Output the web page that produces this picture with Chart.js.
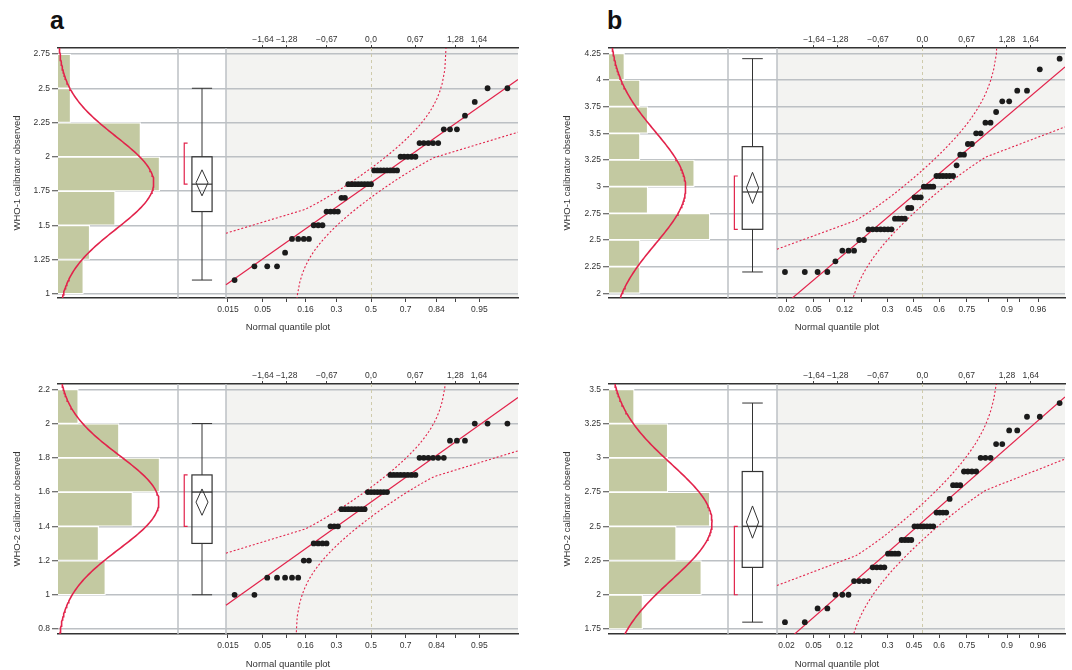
<!DOCTYPE html>
<html>
<head>
<meta charset="utf-8">
<title>WHO calibrator normality plots</title>
<script src="https://cdn.jsdelivr.net/npm/chart.js@4.4.1/dist/chart.umd.min.js"></script>
<style>
  html, body { margin: 0; padding: 0; background: #fff; }
  body { width: 1072px; height: 670px; position: relative; overflow: hidden; font-family: "Liberation Sans", Arial, sans-serif; }
  .panel { position: absolute; }
  .tag { position: absolute; font-size: 25px; font-weight: bold; line-height: 1; color: #111; }
</style>
</head>
<body>
<div class="tag" style="left:50px; top:8px">a</div>
<div class="tag" style="left:607px; top:8px">b</div>
<div class="panel" style="left:0; top:0; width:540px; height:336px"><canvas id="chartA1"></canvas></div>
<div class="panel" style="left:550px; top:0; width:522px; height:336px"><canvas id="chartB1"></canvas></div>
<div class="panel" style="left:0; top:336px; width:540px; height:334px"><canvas id="chartA2"></canvas></div>
<div class="panel" style="left:550px; top:336px; width:522px; height:334px"><canvas id="chartB2"></canvas></div>
<script>
// DATA

// panel a, WHO-1
const a1YTicks = [1, 1.25, 1.5, 1.75, 2, 2.25, 2.5, 2.75];
const a1Levels = [1.1, 1.2, 1.3, 1.4, 1.5, 1.6, 1.7, 1.8, 1.9, 2.0, 2.1, 2.2, 2.3, 2.4, 2.5];
const a1Counts = [1, 3, 1, 4, 3, 4, 2, 8, 8, 5, 5, 3, 1, 1, 2];
const a1Bins = [1, 1.25, 1.5, 1.75, 2, 2.25, 2.5, 2.75];
const a1Hist = [4, 5, 9, 16, 13, 2, 2];
const a1Box = [1.1, 1.6, 1.8, 2.0, 2.5]; // whisker lo, q1, median, q3, whisker hi
const a1Half = [1.8, 2.1]; // shortest half

// panel b, WHO-1
const b1YTicks = [2, 2.25, 2.5, 2.75, 3, 3.25, 3.5, 3.75, 4, 4.25];
const b1Levels = [2.2, 2.3, 2.4, 2.5, 2.6, 2.7, 2.8, 2.9, 3.0, 3.1, 3.2, 3.3, 3.4, 3.5, 3.6, 3.7, 3.8, 3.9, 4.1, 4.2];
const b1Counts = [4, 1, 3, 2, 7, 4, 2, 3, 4, 6, 1, 2, 2, 2, 2, 1, 2, 2, 1, 1];
const b1Bins = [2, 2.25, 2.5, 2.75, 3, 3.25, 3.5, 3.75, 4, 4.25];
const b1Hist = [4, 4, 13, 5, 11, 4, 5, 4, 2];
const b1Box = [2.2, 2.6, 2.95, 3.375, 4.2];
const b1Half = [2.6, 3.1];

// panel a, WHO-2
const a2YTicks = [0.8, 1, 1.2, 1.4, 1.6, 1.8, 2, 2.2];
const a2Levels = [1.0, 1.1, 1.2, 1.3, 1.4, 1.5, 1.6, 1.7, 1.8, 1.9, 2.0];
const a2Counts = [2, 5, 2, 4, 3, 8, 7, 8, 6, 3, 3];
const a2Bins = [1, 1.2, 1.4, 1.6, 1.8, 2.0, 2.2];
const a2Hist = [7, 6, 11, 15, 9, 3];
const a2Box = [1.0, 1.3, 1.6, 1.7, 2.0];
const a2Half = [1.4, 1.7];

// panel b, WHO-2
const b2YTicks = [1.75, 2, 2.25, 2.5, 2.75, 3, 3.25, 3.5];
const b2Levels = [1.8, 1.9, 2.0, 2.1, 2.2, 2.3, 2.4, 2.5, 2.6, 2.7, 2.8, 2.9, 3.0, 3.1, 3.2, 3.3, 3.4];
const b2Counts = [2, 2, 3, 4, 4, 4, 4, 7, 4, 1, 3, 4, 3, 2, 2, 2, 1];
const b2Bins = [1.75, 2, 2.25, 2.5, 2.75, 3, 3.25, 3.5];
const b2Hist = [4, 11, 8, 12, 7, 7, 3];
const b2Box = [1.8, 2.2, 2.5, 2.9, 3.4];
const b2Half = [2.0, 2.5];

// quantile plot axes
const probA = [0.015, 0.05, 0.16, 0.3, 0.5, 0.7, 0.84, 0.95];
const probAMinor = [0.1, 0.9];
const probB = [0.02, 0.05, 0.12, 0.3, 0.45, 0.6, 0.75, 0.9, 0.96];
const probBMinor = [0.08, 0.18, 0.84, 0.93];
const zTicks = [-1.64, -1.28, -0.67, 0, 0.67, 1.28, 1.64];
const zLabels = ["\u22121,64", "\u22121,28", "\u22120,67", "0,0", "0,67", "1,28", "1,64"];

// COLOURS / FONTS

const RED = "#e2234b";
const BAR = "#c3c9a1";
const GRID = "#bcc0c4";
const INK = "#333";
Chart.defaults.font.family = '"Liberation Sans", Arial, Helvetica, sans-serif';
Chart.defaults.color = INK;
const tickFont = { size: 8.5 };
const titleFont = { size: 9.5 };

// NORMAL HELPERS

function qnorm(p) {
  const a = [-39.69683028665376, 220.9460984245205, -275.9285104469687, 138.357751867269, -30.66479806614716, 2.506628277459239];
  const b = [-54.47609879822406, 161.5858368580409, -155.6989798598866, 66.80131188771972, -13.28068155288572];
  const c = [-0.007784894002430293, -0.3223964580411365, -2.400758277161838, -2.549732539343734, 4.374664141464968, 2.938163982698783];
  const d = [0.007784695709041462, 0.3224671290700398, 2.445134137142996, 3.754408661907416];
  const lo = 0.02425;
  if (p < lo) {
    const q = Math.sqrt(-2 * Math.log(p));
    return (((((c[0] * q + c[1]) * q + c[2]) * q + c[3]) * q + c[4]) * q + c[5]) / ((((d[0] * q + d[1]) * q + d[2]) * q + d[3]) * q + 1);
  }
  if (p > 1 - lo) {
    const q = Math.sqrt(-2 * Math.log(1 - p));
    return -(((((c[0] * q + c[1]) * q + c[2]) * q + c[3]) * q + c[4]) * q + c[5]) / ((((d[0] * q + d[1]) * q + d[2]) * q + d[3]) * q + 1);
  }
  const q = p - 0.5, r = q * q;
  return (((((a[0] * r + a[1]) * r + a[2]) * r + a[3]) * r + a[4]) * r + a[5]) * q / (((((b[0] * r + b[1]) * r + b[2]) * r + b[3]) * r + b[4]) * r + 1);
}

function pnorm(z) {
  const t = 1 / (1 + 0.2316419 * Math.abs(z));
  const dd = 0.3989423 * Math.exp(-z * z / 2);
  const p = dd * t * (0.3193815 + t * (-0.3565638 + t * (1.781478 + t * (-1.821256 + t * 1.330274))));
  return z > 0 ? 1 - p : p;
}

function dnorm(z) {
  return Math.exp(-z * z / 2) / Math.sqrt(2 * Math.PI);
}

// DECORATION PLUGIN: shaded quantile area, separators, box plot

function strokeLine(ctx, x1, y1, x2, y2) {
  ctx.beginPath();
  ctx.moveTo(x1, y1);
  ctx.lineTo(x2, y2);
  ctx.stroke();
}

const decor = {
  id: "decor",
  beforeDraw(chart) {
    const { ctx, chartArea: a, scales } = chart;
    const x0 = scales.xb.getPixelForValue(1);
    ctx.save();
    ctx.fillStyle = "#f3f3f1";
    ctx.fillRect(x0, a.top, a.right - x0, a.bottom - a.top);
    ctx.restore();
  },
  beforeDatasetsDraw(chart) {
    const { ctx, chartArea: a, scales } = chart;
    ctx.save();
    ctx.strokeStyle = "#bdc1c5";
    ctx.lineWidth = 1.5;
    [0, 1].forEach((v) => {
      const x = scales.xb.getPixelForValue(v);
      strokeLine(ctx, x, a.top, x, a.bottom);
    });
    ctx.strokeStyle = "#cfcbac";
    ctx.lineWidth = 1;
    ctx.setLineDash([3, 3]);
    const xz = Math.round(scales.xq.getPixelForValue(0)) + 0.5;
    strokeLine(ctx, xz, a.top, xz, a.bottom);
    ctx.restore();
  },
  afterDatasetsDraw(chart, args, o) {
    const { ctx, scales } = chart;
    const xb = scales.xb;
    const py = (v) => scales.y.getPixelForValue(v);
    const b = o.box;
    const cx = xb.getPixelForValue(0.5);
    const hw = xb.getPixelForValue(0.71) - cx;
    const dw = xb.getPixelForValue(0.625) - cx;

    ctx.save();
    ctx.strokeStyle = INK;
    ctx.lineWidth = 1;
    strokeLine(ctx, cx, py(b[0]), cx, py(b[1]));
    strokeLine(ctx, cx, py(b[3]), cx, py(b[4]));
    strokeLine(ctx, cx - hw, py(b[0]), cx + hw, py(b[0]));
    strokeLine(ctx, cx - hw, py(b[4]), cx + hw, py(b[4]));
    ctx.lineWidth = 1.2;
    ctx.strokeRect(cx - hw, py(b[3]), 2 * hw, py(b[1]) - py(b[3]));
    strokeLine(ctx, cx - hw, py(b[2]), cx + hw, py(b[2]));

    // means diamond
    ctx.lineWidth = 1;
    ctx.beginPath();
    ctx.moveTo(cx, py(o.mean + o.ci));
    ctx.lineTo(cx + dw, py(o.mean));
    ctx.lineTo(cx, py(o.mean - o.ci));
    ctx.lineTo(cx - dw, py(o.mean));
    ctx.closePath();
    ctx.stroke();

    // shortest half bracket
    const bx = xb.getPixelForValue(0.13);
    const bt = xb.getPixelForValue(0.2);
    ctx.strokeStyle = RED;
    ctx.lineWidth = 1.2;
    ctx.beginPath();
    ctx.moveTo(bt, py(o.half[1]));
    ctx.lineTo(bx, py(o.half[1]));
    ctx.lineTo(bx, py(o.half[0]));
    ctx.lineTo(bt, py(o.half[0]));
    ctx.stroke();
    ctx.restore();
  },
};

// PANEL BUILDER

function makePanel(id, p) {
  const vals = [];
  p.levels.forEach((v, i) => {
    for (let k = 0; k < p.counts[i]; k++) vals.push(v);
  });
  const n = vals.length;
  const mean = vals.reduce((s, v) => s + v, 0) / n;
  const sd = Math.sqrt(vals.reduce((s, v) => s + (v - mean) * (v - mean), 0) / (n - 1));
  const ci = 2.008 * sd / Math.sqrt(n);

  // layout, page pixels -> canvas pixels
  const L = p.chartLeft - p.left;
  const S1 = p.sep1 - p.left;
  const S2 = p.sep2 - p.left;
  const R = p.right - p.left;
  const zMin = (p.chartLeft - p.zeroX) / p.ppz;
  const zLo = (p.sep2 - p.zeroX) / p.ppz;
  const zHi = (p.right - p.zeroX) / p.ppz;
  const histMax = Math.max(...p.hist) * 1.18;

  // normal quantile plot
  const qq = vals.map((v, i) => ({ x: qnorm((i + 1) / (n + 1)), y: v }));
  const fit = [
    { x: zLo, y: mean + sd * zLo },
    { x: zHi, y: mean + sd * zHi },
  ];
  const dL = 0.886 / Math.sqrt(n);
  const bandAt = (z, sign) => ({ x: z, y: mean + sd * qnorm(pnorm(z) + sign * dL) });
  const upper = [bandAt(zLo, 1)];
  for (let z = -1; pnorm(z) + dL < 0.9995; z += 0.04) upper.push(bandAt(z, 1));
  upper.push(bandAt(qnorm(0.9995 - dL), 1));
  const lower = [];
  const zStart = qnorm(dL + 0.0005);
  lower.push(bandAt(zStart, -1));
  for (let z = Math.ceil(zStart / 0.04) * 0.04; z <= 1; z += 0.04) lower.push(bandAt(z, -1));
  lower.push(bandAt(zHi, -1));

  // histogram + normal curve
  const binW = p.bins[1] - p.bins[0];
  const hist = p.hist.map((c, i) => ({ x: c, y: (p.bins[i] + p.bins[i + 1]) / 2 }));
  const curve = [];
  for (let k = 0; k <= 160; k++) {
    const y = p.yMin + ((p.yMax - p.yMin) * k) / 160;
    curve.push({ x: (n * binW * dnorm((y - mean) / sd)) / sd, y: y });
  }

  // probability ticks
  const probTicks = p.probs
    .map((pr) => ({ value: qnorm(pr), label: String(pr) }))
    .concat(p.minor.map((pr) => ({ value: qnorm(pr), label: "" })))
    .sort((u, v) => u.value - v.value);

  new Chart(document.getElementById(id), {
    type: "scatter",
    data: {
      datasets: [
        { data: qq, xAxisID: "xq", yAxisID: "y", pointRadius: 2.9, pointBackgroundColor: "#1b1b1b", pointBorderWidth: 0 },
        { data: fit, xAxisID: "xq", yAxisID: "y", showLine: true, pointRadius: 0, borderColor: RED, borderWidth: 1.2 },
        { data: upper, xAxisID: "xq", yAxisID: "y", showLine: true, pointRadius: 0, borderColor: RED, borderWidth: 1.1, borderDash: [2, 2] },
        { data: lower, xAxisID: "xq", yAxisID: "y", showLine: true, pointRadius: 0, borderColor: RED, borderWidth: 1.1, borderDash: [2, 2] },
        { data: curve, xAxisID: "xh", yAxisID: "y", showLine: true, pointRadius: 0, borderColor: RED, borderWidth: 1.6 },
        {
          type: "bar",
          indexAxis: "y",
          data: hist,
          xAxisID: "xh",
          yAxisID: "y",
          grouped: false,
          backgroundColor: BAR,
          borderColor: "#fff",
          borderWidth: { top: 1.2, bottom: 1.2, right: 1.2, left: 0 },
          borderSkipped: false,
          barPercentage: 1,
          categoryPercentage: 1,
        },
      ],
    },
    options: {
      responsive: true,
      maintainAspectRatio: false,
      devicePixelRatio: 1,
      animation: false,
      events: [],
      layout: { padding: { left: 0, top: 0, bottom: 0, right: p.width - R } },
      plugins: {
        legend: { display: false },
        tooltip: { enabled: false },
        decor: { box: p.box, half: p.half, mean: mean, ci: ci },
      },
      scales: {
        y: {
          type: "linear",
          position: "left",
          min: p.yMin,
          max: p.yMax,
          offset: false,
          afterBuildTicks: (s) => {
            s.ticks = p.yTicks.map((v) => ({ value: v }));
          },
          afterFit: (s) => {
            s.width = L;
          },
          grid: { color: GRID, lineWidth: 1.5, offset: false, tickLength: 6, tickColor: "#444", tickWidth: 1 },
          border: { display: false },
          ticks: { font: tickFont, color: INK, padding: 2, callback: (v) => String(+v.toFixed(2)) },
          title: { display: true, text: p.yTitle, font: titleFont, color: INK, padding: { top: p.titleX - p.left - 5.7, bottom: 0 } },
        },
        xh: { type: "linear", display: false, min: 0, max: (histMax * (R - L)) / (S1 - L) },
        xb: { type: "linear", display: false, min: -(S1 - L) / (S2 - S1), max: (R - S1) / (S2 - S1) },
        xq: {
          type: "linear",
          position: "bottom",
          min: zMin,
          max: zHi,
          afterBuildTicks: (s) => {
            s.ticks = probTicks.map((t) => ({ value: t.value }));
          },
          afterFit: (s) => {
            s.height = p.height - (p.chartBottom - p.top);
          },
          grid: { drawOnChartArea: false, tickLength: 4, tickColor: "#444", tickWidth: 1 },
          border: { display: true, color: INK, width: 1.5 },
          ticks: { font: tickFont, color: INK, padding: 2.5, autoSkip: false, maxRotation: 0, callback: (v, i) => probTicks[i].label },
          title: { display: true, text: "Normal quantile plot", font: titleFont, color: INK, padding: { top: 0, bottom: p.titlePad } },
        },
        xt: {
          type: "linear",
          position: "top",
          min: zMin,
          max: zHi,
          afterBuildTicks: (s) => {
            s.ticks = zTicks.map((v) => ({ value: v }));
          },
          afterFit: (s) => {
            s.height = p.chartTop - p.top;
          },
          grid: { drawOnChartArea: false, tickLength: 3, tickColor: "#444", tickWidth: 1 },
          border: { display: true, color: INK, width: 1.5 },
          ticks: { font: tickFont, color: INK, padding: 0, autoSkip: false, maxRotation: 0, callback: (v, i) => zLabels[i] },
        },
      },
    },
    plugins: [decor],
  });
}

// PANELS

const layoutA = { left: 0, width: 540, chartLeft: 58, sep1: 178, sep2: 226, right: 518, zeroX: 371, ppz: 65.9, titleX: 17, probs: probA, minor: probAMinor };
const layoutB = { left: 550, width: 522, chartLeft: 609, sep1: 728, sep2: 777, right: 1065, zeroX: 922.3, ppz: 66.1, titleX: 567.5, probs: probB, minor: probBMinor };
const rowTop = { top: 0, height: 336, chartTop: 48, chartBottom: 298, titlePad: 3.3 };
const rowBottom = { top: 336, height: 334, chartTop: 384, chartBottom: 634, titlePad: 0 };

makePanel("chartA1", Object.assign({}, layoutA, rowTop, {
  yTitle: "WHO-1 calibrator observed", yMin: 0.969, yMax: 2.794, yTicks: a1YTicks,
  levels: a1Levels, counts: a1Counts, bins: a1Bins, hist: a1Hist, box: a1Box, half: a1Half,
}));
makePanel("chartB1", Object.assign({}, layoutB, rowTop, {
  yTitle: "WHO-1 calibrator observed", yMin: 1.956, yMax: 4.3, yTicks: b1YTicks,
  levels: b1Levels, counts: b1Counts, bins: b1Bins, hist: b1Hist, box: b1Box, half: b1Half,
}));
makePanel("chartA2", Object.assign({}, layoutA, rowBottom, {
  yTitle: "WHO-2 calibrator observed", yMin: 0.771, yMax: 2.231, yTicks: a2YTicks,
  levels: a2Levels, counts: a2Counts, bins: a2Bins, hist: a2Hist, box: a2Box, half: a2Half,
}));
makePanel("chartB2", Object.assign({}, layoutB, rowBottom, {
  yTitle: "WHO-2 calibrator observed", yMin: 1.7135, yMax: 3.539, yTicks: b2YTicks,
  levels: b2Levels, counts: b2Counts, bins: b2Bins, hist: b2Hist, box: b2Box, half: b2Half,
}));
</script>
</body>
</html>
